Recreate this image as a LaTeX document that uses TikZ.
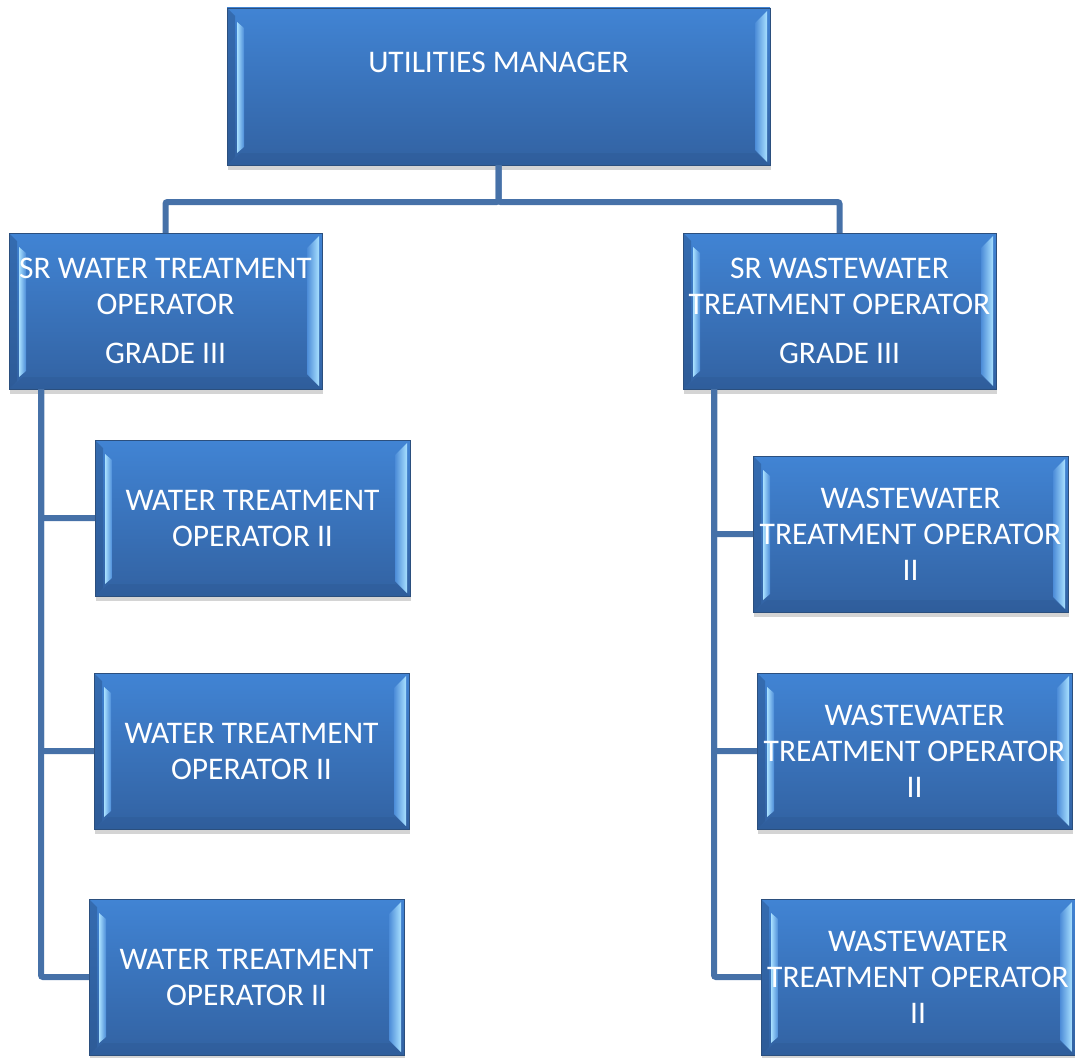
\documentclass[tikz,border=0pt]{standalone}
\usepackage{fontspec}
\setmainfont{Carlito}
\usetikzlibrary{shadows,calc}
\definecolor{boxtop}{HTML}{4184D4}
\definecolor{boxbot}{HTML}{3262A2}
\definecolor{boxline}{HTML}{2B4F7E}
\definecolor{conncol}{HTML}{4671A8}
\definecolor{bevlight}{HTML}{A8E0FF}
\definecolor{bevmid}{HTML}{4C8CD8}
\definecolor{bevdark}{HTML}{2A558E}
\tikzset{
  orgbox/.style={
    draw=boxline, line width=0.8pt,
    top color=boxtop, bottom color=boxbot,
    minimum width=314pt, minimum height=156pt,
    inner sep=0pt, outer sep=0pt,
    text=white, align=center,
    font=\fontsize{31.5}{36}\selectfont,
    drop shadow={shadow xshift=1pt, shadow yshift=-5pt, opacity=0.28, fill=black!60},
    path picture={
      % left dark edge
      \fill[bevdark, opacity=0.5]
        (path picture bounding box.south west) --
        (path picture bounding box.north west) --
        ([shift={(8pt,-8pt)}]path picture bounding box.north west) --
        ([shift={(8pt,8pt)}]path picture bounding box.south west) -- cycle;
      % bottom dark band
      \fill[bevdark, opacity=0.3]
        (path picture bounding box.south west) --
        (path picture bounding box.south east) --
        ([shift={(-14pt,12pt)}]path picture bounding box.south east) --
        ([shift={(14pt,12pt)}]path picture bounding box.south west) -- cycle;
      % left light strip
      \shade[left color=bevlight, right color=bevmid]
        ([shift={(10pt,-14pt)}]path picture bounding box.north west) --
        ([shift={(17pt,-20pt)}]path picture bounding box.north west) --
        ([shift={(17pt,18pt)}]path picture bounding box.south west) --
        ([shift={(10pt,12pt)}]path picture bounding box.south west) -- cycle;
      % right light strip
      \shade[left color=bevmid, right color=bevlight]
        ([shift={(-15pt,-15pt)}]path picture bounding box.north east) --
        ([shift={(-3pt,-3pt)}]path picture bounding box.north east) --
        ([shift={(-3pt,3pt)}]path picture bounding box.south east) --
        ([shift={(-15pt,15pt)}]path picture bounding box.south east) -- cycle;
    }
  },
  conn/.style={draw=conncol, line width=6pt, rounded corners=2pt}
}
\begin{document}
\begin{tikzpicture}[x=1pt,y=-1pt]
\useasboundingbox (0,0) rectangle (1075,1057);

\node[orgbox, minimum width=543pt, minimum height=157pt] (top) at (498.5,86.5)
  {UTILITIES MANAGER\\[12pt]\mbox{}};

\node[orgbox, minimum width=313pt] (srw) at (165.5,311)
  {SR WATER TREATMENT\\OPERATOR\\[13pt]GRADE III};
\node[orgbox, minimum width=313pt] (srww) at (839.5,311)
  {SR WASTEWATER\\TREATMENT OPERATOR\\[13pt]GRADE III};

\node[orgbox, minimum width=315pt] (wto1) at (252.5,518) {WATER TREATMENT\\OPERATOR II};
\node[orgbox, minimum width=315pt] (wto2) at (251.5,751) {WATER TREATMENT\\OPERATOR II};
\node[orgbox, minimum width=315pt] (wto3) at (246.5,977) {WATER TREATMENT\\OPERATOR II};

\node[orgbox, minimum width=315pt] (wwto1) at (910.5,534) {WASTEWATER\\TREATMENT OPERATOR\\II};
\node[orgbox, minimum width=315pt] (wwto2) at (914.5,751) {WASTEWATER\\TREATMENT OPERATOR\\II};
\node[orgbox, minimum width=314pt] (wwto3) at (918,977) {WASTEWATER\\TREATMENT OPERATOR\\II};

\draw[conn] (top.south) -- ++(0,37) -| (srw.north);
\draw[conn] (top.south) -- ++(0,37) -| (srww.north);

\draw[conn] ([xshift=32pt]srw.south west) |- (wto1.west);
\draw[conn] ([xshift=32pt]srw.south west) |- (wto2.west);
\draw[conn] ([xshift=32pt]srw.south west) |- (wto3.west);

\draw[conn] ([xshift=31pt]srww.south west) |- (wwto1.west);
\draw[conn] ([xshift=31pt]srww.south west) |- (wwto2.west);
\draw[conn] ([xshift=31pt]srww.south west) |- (wwto3.west);
\end{tikzpicture}
\end{document}
